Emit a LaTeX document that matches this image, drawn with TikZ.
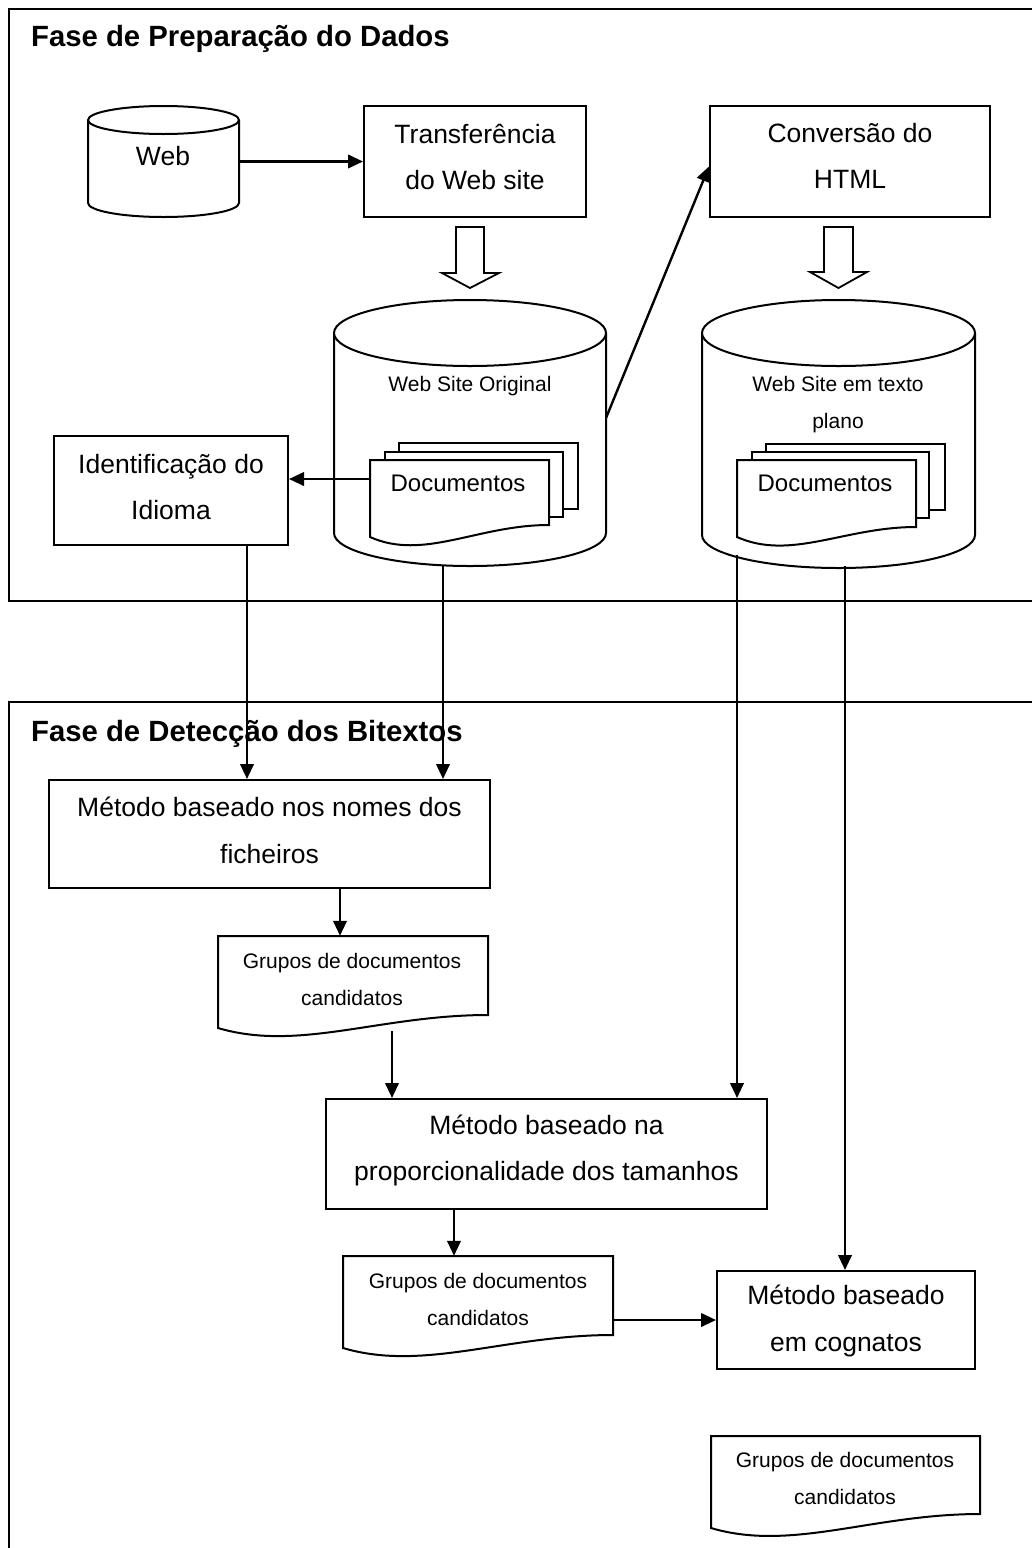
\documentclass[tikz,border=0pt]{standalone}
\usepackage{fontspec}
\setmainfont{Liberation Sans}
\usetikzlibrary{arrows.meta,calc}
\newcommand{\docshape}[5]{%
  \draw[shp] (#1,#5) -- (#1,#2) -- (#3,#2) -- (#3,#4)
    .. controls ({#1+0.6*(#3-#1)},#4) and ({#1+0.3*(#3-#1)},{#5+24}) .. (#1,#5) -- cycle;}
\newcommand{\cylshape}[5]{% cx, rx, ytop, ry, ybottom
  \draw[shp] ({#1-#2},#3) -- ({#1-#2},#5) arc[start angle=180, end angle=0, x radius=#2, y radius=#4] -- ({#1+#2},#3);
  \draw[shp] (#1,#3) ellipse [x radius=#2, y radius=#4];}
\begin{document}
\begin{tikzpicture}[x=1pt,y=-1pt,
  shp/.style={draw, line width=2pt, fill=white},
  box/.style={draw, line width=2pt, rectangle, inner sep=0pt},
  area/.style={inner sep=0pt, rectangle},
  big/.style={font=\fontsize{26.5}{46.5}\selectfont, align=center, inner sep=0pt},
  small/.style={font=\fontsize{21}{37}\selectfont, align=center, inner sep=0pt},
  mid/.style={font=\fontsize{24}{30}\selectfont, inner sep=0pt},
  ttl/.style={font=\bfseries\fontsize{29.3}{35}\selectfont, anchor=base west, inner sep=0pt},
  arr/.style={line width=2.4pt, -{Triangle[length=15pt,width=13.5pt]}},
  hollow/.style={draw, line width=1.8pt, fill=white, line join=miter}
]
\useasboundingbox (0,0) rectangle (1032,1548);
\clip (0,0) rectangle (1032,1548);
\fill[white] (0,0) rectangle (1032,1548);

% phase frames
\draw[line width=2pt] (9,9) rectangle (1050,601);
\draw[line width=2pt] (9,702) rectangle (1050,1570);
\node[ttl] (t1) at (31,46) {Fase de Preparação do Dados};
\node[ttl] (t2) at (31,741) {Fase de Detecção dos Bitextos};

% Web cylinder
\cylshape{163.5}{75.5}{120}{14}{203}
\node[area, minimum width=151pt, minimum height=111pt] (web) at (163.5,161.5) {};
\node[big] (webT) at (163,156) {Web};

% boxes
\node[box, minimum width=222pt, minimum height=111pt] (trans) at (475,161.5) {};
\node[big] (transT) at (475,157) {Transferência\\do Web site};
\node[box, minimum width=280pt, minimum height=111pt] (conv) at (850,161.5) {};
\node[big] (convT) at (850,156) {Conversão do\\HTML};

% hollow block arrows
\draw[hollow] (456,227) -- (484,227) -- (484,273) -- (499,273) -- (470,288) -- (442,273) -- (456,273) -- cycle;
\draw[hollow] (824,227) -- (853,227) -- (853,272) -- (867,272) -- (838.5,288) -- (810,272) -- (824,272) -- cycle;

% cylinders
\cylshape{470}{136}{333}{33}{533}
\node[area, minimum width=272pt, minimum height=267pt] (wso) at (470,432.5) {};
\node[small] (wsoT) at (470,386) {Web Site Original};
\cylshape{838.5}{136.5}{333}{33}{535}
\node[area, minimum width=273pt, minimum height=268pt] (wst) at (838.5,433) {};
\node[small] (wstT) at (838,405) {Web Site em texto\\plano};

% document stacks
\draw[shp] (399,443) rectangle (578,509);
\draw[shp] (385,452) rectangle (563,517);
\docshape{370}{460}{549}{525}{537}
\node[area, minimum width=179pt, minimum height=77pt] (doc1) at (459.5,498.5) {};
\node[mid] (doc1T) at (458,483) {Documentos};
\draw[shp] (766,444) rectangle (945,510);
\draw[shp] (752,452) rectangle (929,518);
\docshape{737}{460}{916}{527}{537}
\node[area, minimum width=179pt, minimum height=77pt] (doc2) at (826.5,498.5) {};
\node[mid] (doc2T) at (825,483) {Documentos};

% identificacao
\node[box, minimum width=234pt, minimum height=109pt] (ident) at (171,490.5) {};
\node[big] (identT) at (171,487) {Identificação do\\Idioma};

% phase 2 boxes
\node[box, minimum width=441pt, minimum height=108pt] (nomes) at (269.5,834) {};
\node[big] (nomesT) at (269.5,830.5) {Método baseado nos nomes dos\\ficheiros};
\docshape{218}{936}{488}{1015}{1028}
\node[area, minimum width=270pt, minimum height=92pt] (g1) at (353,982) {};
\node[small] (g1T) at (352,979) {Grupos de documentos\\candidatos};
\node[box, minimum width=441pt, minimum height=110pt] (prop) at (546.5,1154) {};
\node[big] (propT) at (546.5,1150.5) {Método baseado na\\proporcionalidade dos tamanhos};
\docshape{343}{1256}{613}{1335}{1348}
\node[area, minimum width=270pt, minimum height=92pt] (g2) at (478,1302) {};
\node[small] (g2T) at (478,1299) {Grupos de documentos\\candidatos};
\node[box, minimum width=258pt, minimum height=98pt] (cogn) at (846,1320) {};
\node[big] (cognT) at (846,1321) {Método baseado\\em cognatos};
\docshape{711}{1436}{980}{1514}{1528}
\node[area, minimum width=269pt, minimum height=92pt] (g3) at (845.5,1482) {};
\node[small] (g3T) at (845,1478) {Grupos de documentos\\candidatos};

% connectors
\draw[arr] (web.east) -- (trans.west);
\coordinate (wsoR) at (606,418);
\draw[arr] (wsoR) -- ($(conv.west)+(0,5)$);
\coordinate (d1L) at (370,479);
\draw[arr] (d1L) -- (d1L -| ident.east);
\coordinate (identOut) at (247,545);
\draw[arr] (identOut) -- (identOut |- nomes.north);
\coordinate (wsoOut) at (443,565);
\draw[arr] (wsoOut) -- (wsoOut |- nomes.north);
\coordinate (wstOutA) at (737,555);
\draw[arr] (wstOutA) -- (wstOutA |- prop.north);
\coordinate (wstOutB) at (845,566);
\draw[arr] (wstOutB) -- (wstOutB |- cogn.north);
\coordinate (nomesOut) at (340,888);
\draw[arr] (nomesOut) -- (nomesOut |- g1.north);
\coordinate (g1Out) at (392,1031);
\draw[arr] (g1Out) -- (g1Out |- prop.north);
\coordinate (propOut) at (454,1209);
\draw[arr] (propOut) -- (propOut |- g2.north);
\draw[arr] (cogn.west -| g2.east) -- (cogn.west);
\end{tikzpicture}
\end{document}
